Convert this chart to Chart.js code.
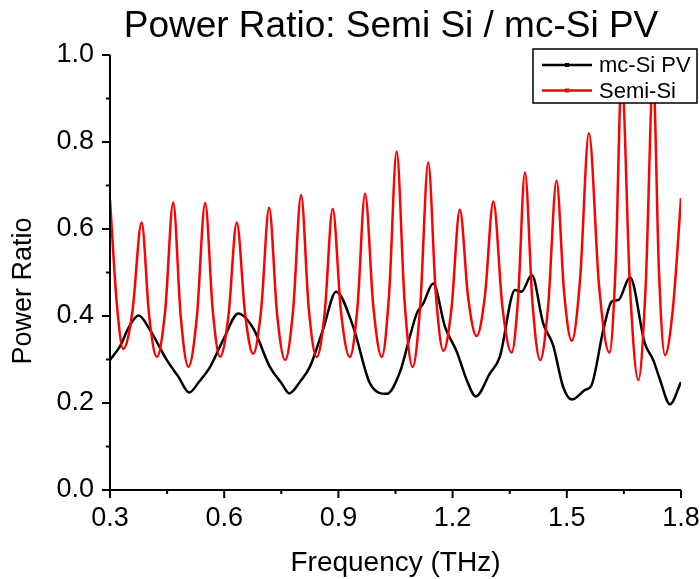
<!DOCTYPE html>
<html>
<head>
<meta charset="utf-8">
<script src="https://cdn.jsdelivr.net/npm/chart.js@4/dist/chart.umd.min.js"></script>
<style>
  html, body { margin: 0; padding: 0; background: #fff; }
  #wrap { width: 700px; height: 579px; }
</style>
</head>
<body>
<div id="wrap"><canvas id="ratioChart" width="700" height="579"></canvas></div>
<script>
// data
const chartTitle = 'Power Ratio: Semi Si / mc-Si PV';
const xTitle = 'Frequency (THz)';
const yTitle = 'Power Ratio';

const freqBlack = [0.300, 0.326, 0.350, 0.375, 0.405, 0.449, 0.480, 0.508, 0.535, 0.563,
  0.600, 0.637, 0.676, 0.720, 0.751, 0.771, 0.800, 0.825, 0.860, 0.894,
  0.939, 0.983, 1.027, 1.062, 1.090, 1.106, 1.123, 1.149, 1.180, 1.211,
  1.237, 1.261, 1.298, 1.324, 1.364, 1.381, 1.408, 1.438, 1.464, 1.490,
  1.513, 1.548, 1.565, 1.596, 1.618, 1.636, 1.666, 1.705, 1.727, 1.745,
  1.771, 1.800];
const mcSiPV = [0.299, 0.330, 0.375, 0.401, 0.368, 0.299, 0.260, 0.224, 0.250, 0.283,
  0.350, 0.406, 0.372, 0.283, 0.245, 0.222, 0.250, 0.283, 0.370, 0.456,
  0.375, 0.245, 0.221, 0.272, 0.360, 0.406, 0.429, 0.475, 0.375, 0.318,
  0.253, 0.215, 0.268, 0.306, 0.460, 0.456, 0.494, 0.383, 0.333, 0.238,
  0.208, 0.230, 0.241, 0.368, 0.433, 0.437, 0.489, 0.337, 0.299, 0.253,
  0.197, 0.248];

const freqRed = [0.300, 0.318, 0.335, 0.359, 0.383, 0.403, 0.423, 0.445, 0.466, 0.486,
  0.506, 0.528, 0.550, 0.570, 0.589, 0.611, 0.633, 0.655, 0.676, 0.697,
  0.718, 0.739, 0.760, 0.781, 0.802, 0.822, 0.843, 0.864, 0.885, 0.907,
  0.930, 0.950, 0.970, 0.992, 1.014, 1.033, 1.053, 1.074, 1.095, 1.115,
  1.136, 1.156, 1.176, 1.197, 1.219, 1.241, 1.263, 1.285, 1.307, 1.331,
  1.355, 1.372, 1.390, 1.410, 1.430, 1.451, 1.473, 1.493, 1.513, 1.535,
  1.558, 1.585, 1.612, 1.628, 1.644, 1.666, 1.688, 1.707, 1.727, 1.742,
  1.758, 1.779, 1.800];
const semiSi = [0.667, 0.427, 0.324, 0.411, 0.615, 0.399, 0.306, 0.413, 0.661, 0.396,
  0.283, 0.396, 0.660, 0.412, 0.306, 0.399, 0.615, 0.404, 0.313, 0.414,
  0.649, 0.404, 0.299, 0.413, 0.678, 0.418, 0.306, 0.408, 0.646, 0.408,
  0.306, 0.419, 0.681, 0.419, 0.306, 0.448, 0.778, 0.432, 0.283, 0.424,
  0.753, 0.450, 0.320, 0.417, 0.644, 0.441, 0.354, 0.447, 0.663, 0.420,
  0.316, 0.440, 0.730, 0.428, 0.299, 0.423, 0.711, 0.453, 0.343, 0.486,
  0.820, 0.467, 0.316, 0.509, 0.950, 0.465, 0.253, 0.465, 0.950, 0.505,
  0.310, 0.420, 0.671];

const FONT = "'Liberation Sans', Arial, Helvetica, sans-serif";

function toPoints(xs, ys) {
  return xs.map((x, i) => ({ x: x, y: ys[i] }));
}

// axes, ticks, titles and the boxed legend, Origin style
const framePlugin = {
  id: 'frame',
  afterDraw(chart) {
    const ctx = chart.ctx;
    const area = chart.chartArea;
    const xs = chart.scales.x;
    const ys = chart.scales.y;
    ctx.save();
    ctx.strokeStyle = '#000';
    ctx.lineWidth = 2;
    ctx.beginPath();
    ctx.moveTo(area.left, area.top);
    ctx.lineTo(area.left, area.bottom);
    ctx.lineTo(area.right, area.bottom);
    ctx.stroke();

    // major + minor ticks
    const xt = xs.ticks.map(t => t.value);
    ctx.beginPath();
    xt.forEach((v, i) => {
      const px = xs.getPixelForValue(v);
      ctx.moveTo(px, area.bottom);
      ctx.lineTo(px, area.bottom + 8);
      if (i < xt.length - 1) {
        const mx = xs.getPixelForValue((v + xt[i + 1]) / 2);
        ctx.moveTo(mx, area.bottom);
        ctx.lineTo(mx, area.bottom + 4);
      }
    });
    const yt = ys.ticks.map(t => t.value);
    yt.forEach((v, i) => {
      const py = ys.getPixelForValue(v);
      ctx.moveTo(area.left, py);
      ctx.lineTo(area.left - 8, py);
      if (i < yt.length - 1) {
        const my = ys.getPixelForValue((v + yt[i + 1]) / 2);
        ctx.moveTo(area.left, my);
        ctx.lineTo(area.left - 4, my);
      }
    });
    ctx.stroke();

    ctx.fillStyle = '#000';
    // chart title
    ctx.font = '37px ' + FONT;
    ctx.textAlign = 'center';
    ctx.textBaseline = 'alphabetic';
    ctx.fillText(chartTitle, 391, 37);
    // axis titles
    ctx.font = '28px ' + FONT;
    ctx.textBaseline = 'middle';
    ctx.fillText(xTitle, (area.left + area.right) / 2, 563);
    ctx.save();
    ctx.translate(24, 291);
    ctx.rotate(-Math.PI / 2);
    ctx.font = '27px ' + FONT;
    ctx.fillText(yTitle, 0, 0);
    ctx.restore();

    // legend box
    const bx = 533, by = 49, bw = 164, bh = 54;
    ctx.fillStyle = '#fff';
    ctx.fillRect(bx, by, bw, bh);
    ctx.lineWidth = 1.5;
    ctx.strokeStyle = '#000';
    ctx.strokeRect(bx, by, bw, bh);
    ctx.font = '22px ' + FONT;
    ctx.textAlign = 'left';
    ctx.textBaseline = 'middle';
    const rows = [chart.data.datasets[0], chart.data.datasets[1]];
    rows.forEach((ds, i) => {
      const ry = 65 + i * 25.5;
      ctx.strokeStyle = ds.borderColor;
      ctx.lineWidth = 2.5;
      ctx.beginPath();
      ctx.moveTo(542, ry);
      ctx.lineTo(592, ry);
      ctx.stroke();
      ctx.fillStyle = ds.borderColor;
      ctx.fillRect(565, ry - 2, 4, 4);
      ctx.fillStyle = '#000';
      ctx.fillText(ds.label, 599, ry + 1);
    });
    ctx.restore();
  }
};

const ctx = document.getElementById('ratioChart').getContext('2d');
const ratioChart = new Chart(ctx, {
  type: 'line',
  data: {
    datasets: [{
      label: 'mc-Si PV',
      data: toPoints(freqBlack, mcSiPV),
      borderColor: '#000000',
      borderWidth: 2.5,
      pointRadius: 0,
      cubicInterpolationMode: 'monotone',
      order: 2
    }, {
      label: 'Semi-Si',
      data: toPoints(freqRed, semiSi),
      borderColor: '#ff0000',
      borderWidth: 2.5,
      pointRadius: 0,
      cubicInterpolationMode: 'monotone',
      order: 1
    }]
  },
  options: {
    responsive: false,
    animation: false,
    events: [],
    layout: { padding: { top: 55, right: 19, left: 0, bottom: 0 } },
    plugins: {
      legend: { display: false },
      title: { display: false },
      tooltip: { enabled: false }
    },
    scales: {
      x: {
        type: 'linear',
        min: 0.3,
        max: 1.8,
        grid: { display: false, drawTicks: false },
        border: { display: false },
        ticks: {
          stepSize: 0.3,
          padding: 12,
          color: '#000',
          maxRotation: 0,
          font: { family: FONT, size: 27 },
          callback: v => v.toFixed(1)
        },
        afterFit(scale) {
          scale.height = 89;
          scale.paddingLeft = 0;
          scale.paddingRight = 0;
        }
      },
      y: {
        min: 0,
        max: 1,
        grid: { display: false, drawTicks: false },
        border: { display: false },
        ticks: {
          stepSize: 0.2,
          padding: 16,
          color: '#000',
          font: { family: FONT, size: 27 },
          callback: v => v.toFixed(1)
        },
        afterFit(scale) {
          scale.width = 110;
          scale.paddingTop = 0;
          scale.paddingBottom = 0;
        }
      }
    }
  },
  plugins: [framePlugin]
});
</script>
</body>
</html>
